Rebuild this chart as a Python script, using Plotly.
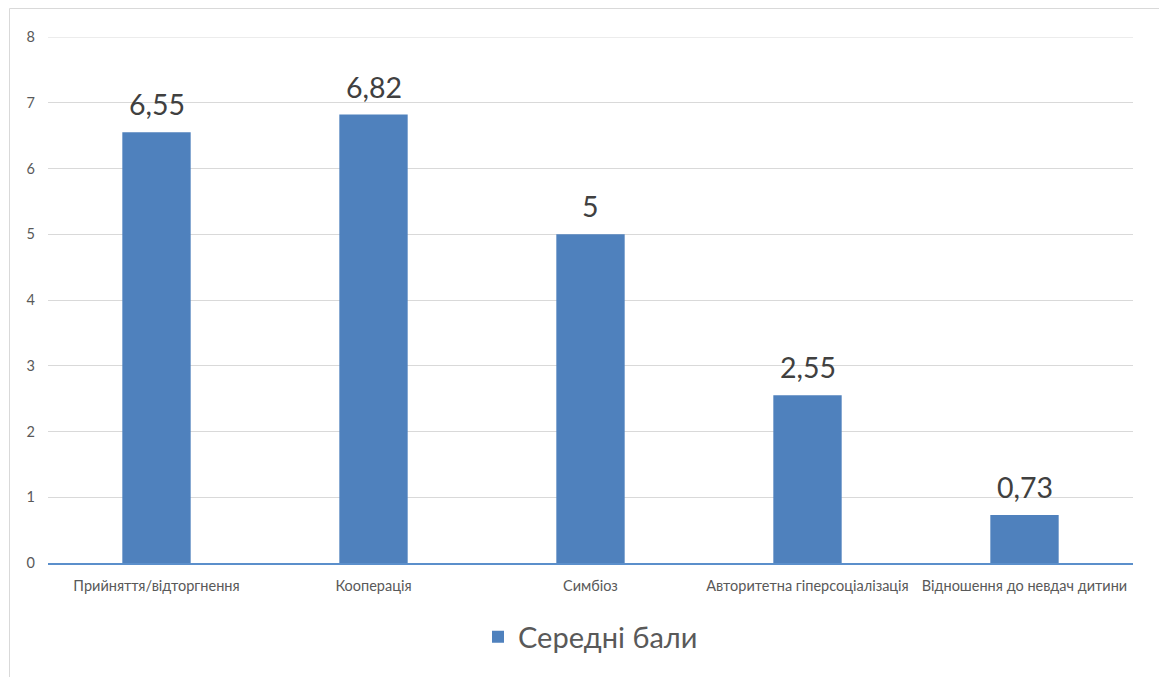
import plotly.graph_objects as go

# Category labels and mean scores
categories = [
    "Прийняття/відторгнення",
    "Кооперація",
    "Симбіоз",
    "Авторитетна гіперсоціалізація",
    "Відношення до невдач дитини",
]
mean_scores = [6.55, 6.82, 5, 2.55, 0.73]
series_name = "Середні бали"
y_ticks = [0, 1, 2, 3, 4, 5, 6, 7, 8]
y_max = 8

FONT = "Lato, 'Open Sans', sans-serif"
BAR_COLOR = "#4F81BD"
TEXT_DARK = "#404040"
TEXT_MID = "#595959"
GRID = "#D9D9D9"

W, H = 1159, 677
L, R, T, B = 48, 26, 37, 114

fig = go.Figure()
fig.add_trace(go.Bar(
    x=categories,
    y=mean_scores,
    name=series_name,
    marker=dict(color=BAR_COLOR, line=dict(width=0)),
    showlegend=True,
))

# value labels above each bar, decimal comma
for cat, val in zip(categories, mean_scores):
    fig.add_annotation(
        x=cat, y=val, xref="x", yref="y",
        text=f"{val:g}".replace(".", ","),
        showarrow=False,
        yanchor="bottom",
        yshift=9,
        font=dict(size=28.5, color=TEXT_DARK, family=FONT),
    )

# top gridline sits on the axis edge, so draw it explicitly
fig.add_shape(type="line", xref="paper", yref="y",
              x0=0, x1=1, y0=y_max, y1=y_max,
              line=dict(color=GRID, width=1), layer="below")

# chart-area frame (top and left edges run to the page edge)
pw = W - L - R
ph = H - T - B
def px_x(px):
    return (px - L) / pw
def px_y(py):
    return (H - B - py) / ph

fig.add_shape(type="line", xref="paper", yref="paper",
              x0=px_x(9.5), x1=px_x(W + 5), y0=px_y(8.5), y1=px_y(8.5),
              line=dict(color=GRID, width=1))
fig.add_shape(type="line", xref="paper", yref="paper",
              x0=px_x(9.5), x1=px_x(9.5), y0=px_y(8.5), y1=px_y(H + 5),
              line=dict(color=GRID, width=1))

fig.update_layout(
    width=W, height=H,
    margin=dict(l=L, r=R, t=T, b=B, pad=0),
    paper_bgcolor="white",
    plot_bgcolor="white",
    separators=", ",
    bargap=0.685,
    font=dict(family=FONT, color=TEXT_MID, size=14.5),
    showlegend=True,
    legend=dict(
        orientation="h",
        x=0.5, xanchor="center",
        y=px_y(637), yanchor="middle",
        font=dict(size=29, color=TEXT_MID, family=FONT),
        itemwidth=30,
        bgcolor="rgba(0,0,0,0)",
    ),
    xaxis=dict(
        showgrid=False,
        showline=True,
        linecolor="#5B8FCB",
        linewidth=2,
        ticks="",
        tickfont=dict(size=14.5, color=TEXT_MID, family=FONT),
        ticklabelstandoff=9,
        fixedrange=True,
    ),
    yaxis=dict(
        range=[0, y_max],
        tickvals=y_ticks,
        showgrid=True,
        gridcolor=GRID,
        gridwidth=1,
        zeroline=False,
        showline=False,
        ticks="",
        tickfont=dict(size=14.5, color=TEXT_MID, family=FONT),
        ticklabelstandoff=12,
        fixedrange=True,
    ),
)

fig.write_html("out.html")
